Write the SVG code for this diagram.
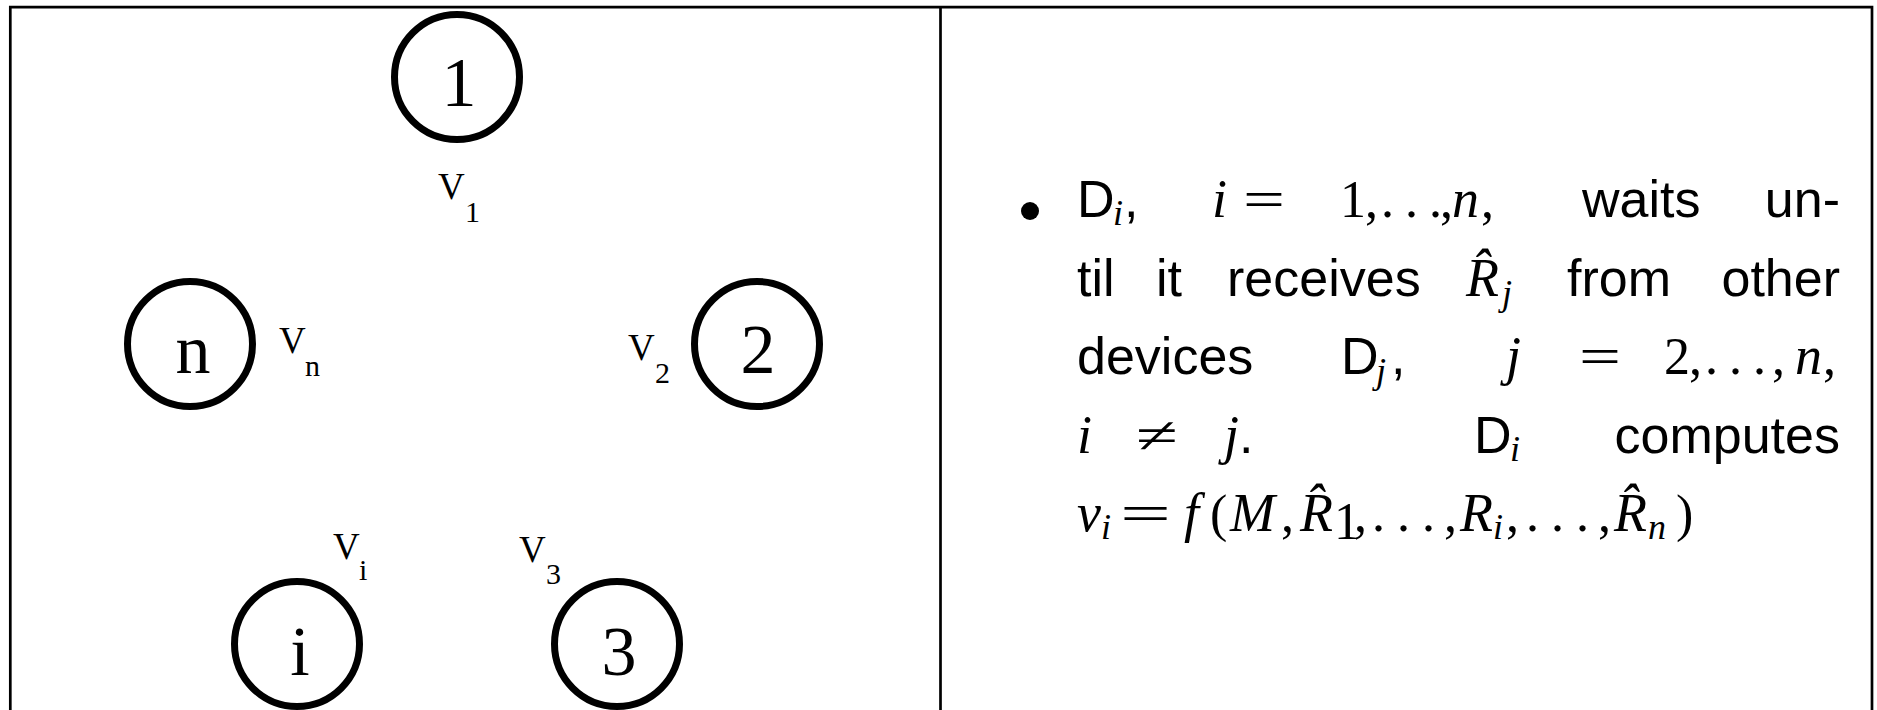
<svg xmlns="http://www.w3.org/2000/svg" width="1877" height="710" viewBox="0 0 1877 710">
<style>
.frame{stroke:#000;stroke-width:2.7;fill:none}
.node{fill:none;stroke:#000;stroke-width:7}
.nl{font-family:"Liberation Serif",serif;font-size:70px;text-anchor:middle}
.v{font-family:"Liberation Serif",serif;font-size:37px}
.vs{font-family:"Liberation Serif",serif;font-size:30px}
.t{font-family:"Liberation Sans",Arial,sans-serif;font-size:52px}
.m{font-family:"Liberation Serif",serif;font-size:54px;font-style:italic}
.mr{font-family:"Liberation Serif",serif;font-size:52px}
.ms{font-family:"Liberation Serif",serif;font-size:36px;font-style:italic}
</style>
<rect width="1877" height="710" fill="#fff"/>
<g id="frame">
<polyline class="frame" points="10.3,712 10.3,7.2 1872,7.2 1872,712"/>
<line class="frame" x1="940.5" y1="7" x2="940.5" y2="712"/>
</g>
<g id="connectors"></g>
<g id="node1"><circle class="node" cx="457" cy="77" r="62.5"/><text class="nl" x="459" y="106">1</text></g>
<g id="node2"><circle class="node" cx="757" cy="344" r="62.5"/><text class="nl" x="758" y="373">2</text></g>
<g id="noden"><circle class="node" cx="190" cy="344" r="62.5"/><text class="nl" x="193" y="373">n</text></g>
<g id="nodei"><circle class="node" cx="297" cy="644" r="62.5"/><text class="nl" x="300" y="675">i</text></g>
<g id="node3"><circle class="node" cx="617" cy="644" r="62.5"/><text class="nl" x="619" y="675">3</text></g>
<g id="labels">
<text class="v" x="438" y="199">V</text><text class="vs" x="465" y="222">1</text>
<text class="v" x="279" y="353">V</text><text class="vs" x="305" y="376">n</text>
<text class="v" x="628" y="360">V</text><text class="vs" x="655" y="383">2</text>
<text class="v" x="333" y="559">V</text><text class="vs" x="359" y="580">i</text>
<text class="v" x="519" y="562">V</text><text class="vs" x="546" y="584">3</text>
</g>
<g id="text">
<circle cx="1030" cy="211" r="9" fill="#000"/>
<text class="t" x="1077" y="217">D</text><text class="ms" x="1113" y="225">i</text><text class="t" x="1124" y="217">,</text>
<text class="m" x="1212" y="217">i</text>
<text class="mr" x="1243" y="217" textLength="42" lengthAdjust="spacingAndGlyphs">=</text>
<text class="mr" x="1340" y="217">1</text><text class="mr" x="1365" y="217">,</text><text class="mr" x="1381 1405 1429" y="217">...</text><text class="mr" x="1440" y="217">,</text><text class="m" x="1452" y="217">n</text><text class="mr" x="1481" y="217">,</text>
<text class="t" x="1582" y="217">waits</text>
<text class="t" x="1840" y="217" text-anchor="end">un-</text>

<text class="t" x="1077" y="296">til</text>
<text class="t" x="1156" y="296">it</text>
<text class="t" x="1227" y="296">receives</text>
<text class="m" x="1466" y="296">R̂</text><text class="ms" x="1502" y="305">j</text>
<text class="t" x="1567" y="296">from</text>
<text class="t" x="1840" y="296" text-anchor="end">other</text>

<text class="t" x="1077" y="374">devices</text>
<text class="t" x="1341" y="374">D</text><text class="ms" x="1376" y="383">j</text><text class="t" x="1391" y="374">,</text>
<text class="m" x="1506" y="374">j</text>
<text class="mr" x="1579" y="374" textLength="42" lengthAdjust="spacingAndGlyphs">=</text>
<text class="mr" x="1664" y="374">2</text><text class="mr" x="1689" y="374">,</text><text class="mr" x="1705 1729 1753" y="374">...</text><text class="mr" x="1772" y="374">,</text><text class="m" x="1795" y="374">n</text><text class="mr" x="1823" y="374">,</text>

<text class="m" x="1077" y="453">i</text>
<text class="mr" x="1136" y="453" textLength="42" lengthAdjust="spacingAndGlyphs">≠</text>
<text class="m" x="1224" y="453">j</text><text class="t" x="1239" y="453">.</text>
<text class="t" x="1474" y="453">D</text><text class="ms" x="1510" y="461">i</text>
<text class="t" x="1840" y="453" text-anchor="end">computes</text>

<text class="m" x="1077" y="531">v</text><text class="ms" x="1101" y="539">i</text>
<text class="mr" x="1120" y="531" textLength="51" lengthAdjust="spacingAndGlyphs">=</text>
<text class="m" x="1184" y="531">f</text><text class="mr" x="1210" y="531">(</text><text class="m" x="1230" y="531">M</text><text class="mr" x="1281" y="531">,</text>
<text class="m" x="1300" y="531">R̂</text><text class="mr" x="1334" y="539" font-size="36">1</text><text class="mr" x="1354" y="531">,</text>
<text class="mr" x="1372 1397 1422" y="531">...</text><text class="mr" x="1444" y="531">,</text>
<text class="m" x="1460" y="531">R</text><text class="ms" x="1493" y="539">i</text><text class="mr" x="1506" y="531">,</text>
<text class="mr" x="1526 1551 1576" y="531">...</text><text class="mr" x="1598" y="531">,</text>
<text class="m" x="1614" y="531">R̂</text><text class="ms" x="1648" y="539">n</text><text class="mr" x="1676" y="531">)</text>
</g>
</svg>
